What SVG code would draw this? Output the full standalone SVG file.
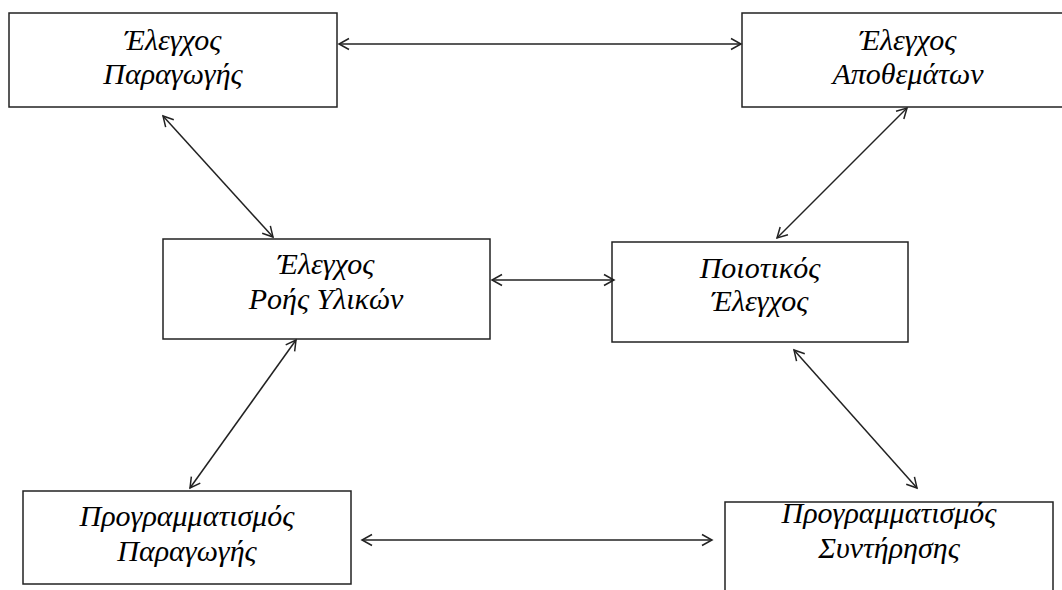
<svg xmlns="http://www.w3.org/2000/svg" width="1062" height="590" viewBox="0 0 1062 590">
<style>
.box{fill:#fff;stroke:#222;stroke-width:1.5}
.lbl{font-family:"Liberation Serif","Times New Roman",serif;font-style:italic;font-size:30px;fill:#000;text-anchor:middle}
.con{stroke:#222;stroke-width:1.5;fill:none;marker-start:url(#ah);marker-end:url(#ah)}
</style>
<defs>
<marker id="ah" viewBox="-12 -7 14 14" refX="0" refY="0" markerWidth="14" markerHeight="14" markerUnits="userSpaceOnUse" orient="auto-start-reverse">
<path d="M-10,-5.5 L0,0 L-10,5.5" fill="none" stroke="#222" stroke-width="1.5"/>
</marker>
</defs>
<rect width="1062" height="590" fill="#fff"/>
<g id="n1"><rect class="box" x="9" y="13" width="328" height="94"/><text class="lbl" x="173" y="50">Έλεγχος</text><text class="lbl" x="173" y="84">Παραγωγής</text></g>
<g id="n2"><rect class="box" x="742" y="13" width="340" height="94"/><text class="lbl" x="908" y="50">Έλεγχος</text><text class="lbl" x="908" y="84">Αποθεμάτων</text></g>
<g id="n3"><rect class="box" x="163" y="239" width="327" height="100"/><text class="lbl" x="326" y="274">Έλεγχος</text><text class="lbl" x="326" y="309">Ροής Υλικών</text></g>
<g id="n4"><rect class="box" x="612" y="242" width="296" height="100"/><text class="lbl" x="760" y="278">Ποιοτικός</text><text class="lbl" x="760" y="311">Έλεγχος</text></g>
<g id="n5"><rect class="box" x="23" y="491" width="328" height="93"/><text class="lbl" x="187" y="526">Προγραμματισμός</text><text class="lbl" x="187" y="561">Παραγωγής</text></g>
<g id="n6"><rect class="box" x="725" y="502" width="328" height="100"/><text class="lbl" x="889" y="523">Προγραμματισμός</text><text class="lbl" x="889" y="558">Συντήρησης</text></g>
<g id="connectors">
<line class="con" x1="339" y1="44" x2="741" y2="44"/>
<line class="con" x1="492" y1="280" x2="614" y2="280"/>
<line class="con" x1="362" y1="540" x2="712" y2="540"/>
<line class="con" x1="163" y1="116" x2="273" y2="237"/>
<line class="con" x1="907" y1="108" x2="777" y2="238"/>
<line class="con" x1="296" y1="340" x2="190" y2="488"/>
<line class="con" x1="794" y1="350" x2="917" y2="488"/>
</g>
</svg>
